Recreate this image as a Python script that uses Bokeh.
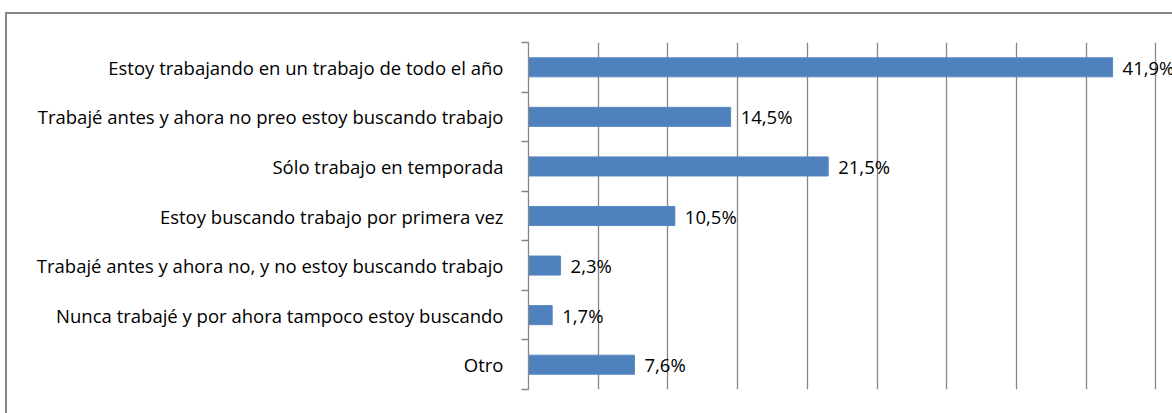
from bokeh.plotting import figure
from bokeh.models import Range1d, FixedTicker, ColumnDataSource
from bokeh.core.properties import value
from bokeh.embed import file_html
from bokeh.resources import INLINE

categories = [
    "Estoy trabajando en un trabajo de todo el año",
    "Trabajé antes y ahora no preo estoy buscando trabajo",
    "Sólo trabajo en temporada",
    "Estoy buscando trabajo por primera vez",
    "Trabajé antes y ahora no, y no estoy buscando trabajo",
    "Nunca trabajé y por ahora tampoco estoy buscando",
    "Otro",
]
values = [41.9, 14.5, 21.5, 10.5, 2.3, 1.7, 7.6]
grid_ticks = [5, 10, 15, 20, 25, 30, 35, 40, 45]

n = len(categories)
ypos = [n - i for i in range(n)]
labels = [f"{v:.1f}".replace(".", ",") + "%" for v in values]

FONT = "Open Sans"
FS = "18.5px"
GRAY = "#868686"

src = ColumnDataSource(dict(y=ypos, v=values, lab=labels))

p = figure(width=1172, height=413, output_backend="svg", toolbar_location=None,
           x_range=Range1d(0, 644 / 13.94), y_range=Range1d(0.5, n + 0.5),
           min_border_left=528, min_border_right=0, min_border_top=42, min_border_bottom=24)
p.outline_line_color = None
p.background_fill_color = "white"
p.border_fill_color = None
p.styles = {
    "background": (
        "linear-gradient(#868686,#868686) 5px 12px / 2px 100% no-repeat, "
        "linear-gradient(#868686,#868686) 5px 12px / 100% 2px no-repeat, white"
    )
}

p.hbar(y="y", right="v", left=0, height=0.385, source=src,
       fill_color="#4F81BD", line_color="#5B8AC2", line_width=1)
p.text(x="v", y="y", text="lab", source=src, x_offset=10,
       text_font=value(FONT), text_font_size=FS, text_baseline="middle",
       text_align="left", text_color="black")

p.xaxis.visible = False
p.xgrid.ticker = FixedTicker(ticks=grid_ticks)
p.xgrid.grid_line_color = GRAY
p.xgrid.grid_line_width = 1.3
p.ygrid.grid_line_color = None

ya = p.yaxis[0]
ya.ticker = FixedTicker(ticks=ypos, minor_ticks=[y - 0.5 for y in range(1, n + 2)])
ya.major_label_overrides = {y: c for y, c in zip(ypos, categories)}
ya.major_tick_out = 0
ya.major_tick_in = 0
ya.minor_tick_out = 7
ya.minor_tick_in = 0
ya.minor_tick_line_color = GRAY
ya.minor_tick_line_width = 1.3
ya.axis_line_color = GRAY
ya.axis_line_width = 1.3
ya.major_label_standoff = 18
ya.major_label_text_font = FONT
ya.major_label_text_font_size = FS
ya.major_label_text_color = "black"

open("out.html", "w").write(file_html(p, INLINE))
